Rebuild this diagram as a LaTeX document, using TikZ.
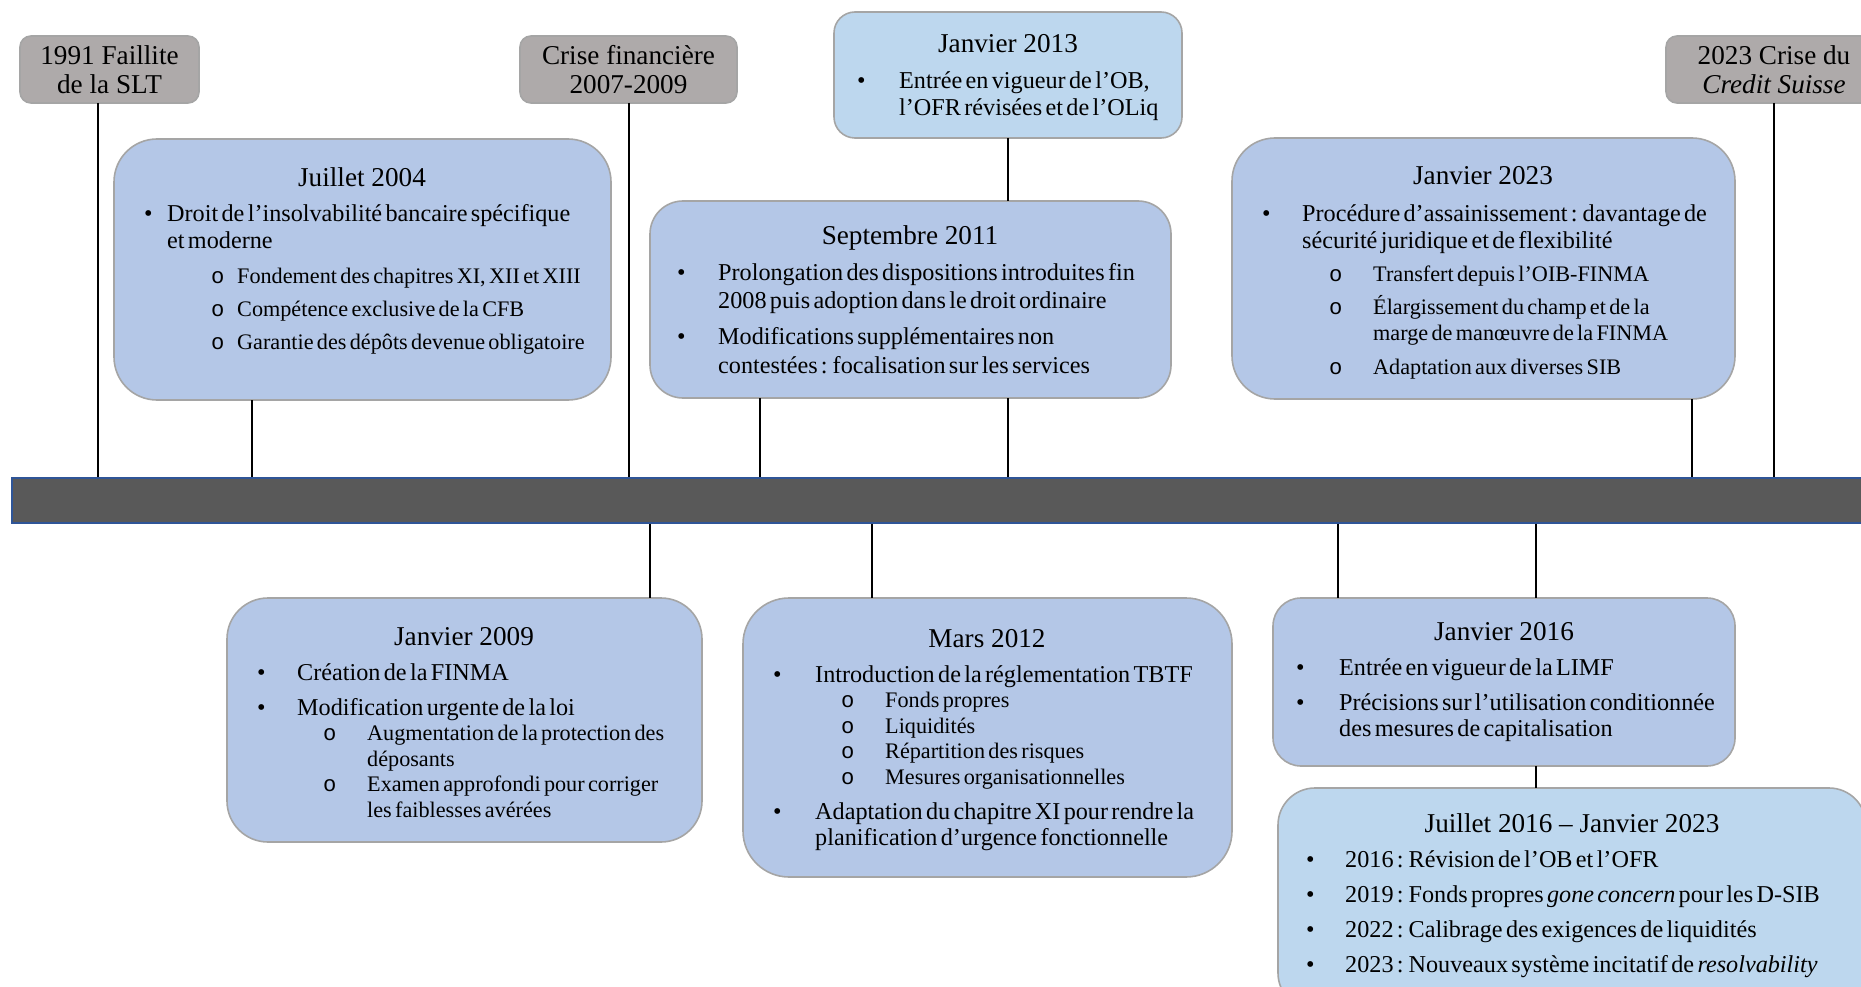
\documentclass[tikz,border=0pt]{standalone}
\usepackage{fontspec}
\setmainfont{Liberation Serif}
\setmonofont{Liberation Mono}

\definecolor{bleu}{HTML}{B4C7E7}
\definecolor{bleuclair}{HTML}{BDD7EE}
\definecolor{gris}{HTML}{AEAAAA}
\definecolor{bord}{HTML}{A5A5A5}
\definecolor{axefond}{HTML}{595959}
\definecolor{axebord}{HTML}{2F5597}

\newcommand{\titre}{\fontsize{27.2}{29}\selectfont}
\newcommand{\corps}{\fontsize{24.2}{26.7}\selectfont}
\newcommand{\sous}{\fontsize{22.2}{25.5}\selectfont}
% puce principale (* = premiere ligne) / sous-puce
\NewDocumentCommand{\pp}{s O{0pt} m}{\IfBooleanF{#1}{\par\ifdim#2>0pt\vspace{#2}\fi}\corps\hangindent=#3\hangafter=1\noindent\makebox[#3][l]{•}\ignorespaces}
\NewDocumentCommand{\ps}{O{0pt} m m}{\par\ifdim#1>0pt\vspace{#1}\fi\sous\hangindent=#3\hangafter=1\noindent\makebox[#3][l]{\hspace*{#2}\texttt{o}}\ignorespaces}

\begin{document}
\begin{tikzpicture}[x=1pt, y=-1pt,
  boite/.style={rectangle, draw=bord, line width=1.6pt, inner sep=0pt, outer sep=0pt},
  bleue/.style={boite, fill=bleu},
  claire/.style={boite, fill=bleuclair},
  grise/.style={boite, fill=gris, rounded corners=11pt, minimum height=67pt, align=center, font=\titre},
  titre/.style={anchor=base, inner sep=0pt, font=\titre},
  liste/.style={anchor=base west, inner sep=0pt, text width=#1},
  tige/.style={draw=black, line width=2pt}]
\useasboundingbox (0,0) rectangle (1861,987);

% axe du temps
\node[rectangle, fill=axefond, draw=axebord, line width=1.5pt, minimum width=1863pt, minimum height=45pt] (axe) at (943.5,500.5) {};

% evenements
\node[grise, minimum width=179pt] (g1991) at (109.5,69.5) {1991 Faillite\\de la SLT};
\node[grise, minimum width=217pt] (g2007) at (628.5,69.5) {Crise financière\\2007-2009};
\node[grise, minimum width=216pt] (g2023) at (1774,69.5) {2023 Crise du\\\textit{Credit Suisse}};

% au-dessus de l'axe
\node[bleue, rounded corners=43pt, minimum width=497pt, minimum height=261pt] (b2004) at (362.5,269.5) {};
\node[titre] (t2004) at (362,187) {Juillet 2004};
\node[liste=460pt] (l2004) at (144,222) {%
\pp*{23pt}Droit de l’insolvabilité bancaire spécifique\newline et moderne
\ps[9.5pt]{67pt}{93pt}Fondement des chapitres XI, XII et XIII
\ps[7pt]{67pt}{93pt}Compétence exclusive de la CFB
\ps[7.5pt]{67pt}{93pt}Garantie des dépôts devenue obligatoire\par};

\node[claire, rounded corners=21pt, minimum width=348pt, minimum height=126pt] (b2013) at (1008,75) {};
\node[titre] (t2013) at (1008,53) {Janvier 2013};
\node[liste=320pt] (l2013) at (857,89) {%
\pp*{42pt}Entrée en vigueur de l’OB,\newline l’OFR révisées et de l’OLiq\par};

\node[bleue, rounded corners=33pt, minimum width=521pt, minimum height=197pt] (b2011) at (910.5,299.5) {};
\node[titre] (t2011) at (910,245) {Septembre 2011};
\node[liste=490pt] (l2011) at (677,280) {%
\pp*{41pt}Prolongation des dispositions introduites fin\vadjust{\vskip1.8pt}\newline 2008 puis adoption dans le droit ordinaire
\pp[9.3pt]{41pt}Modifications supplémentaires non\vadjust{\vskip1.8pt}\newline contestées : focalisation sur les services\par};

\node[bleue, rounded corners=43pt, minimum width=503pt, minimum height=261pt] (b2023) at (1483.5,268.5) {};
\node[titre] (t2023) at (1483,185) {Janvier 2023};
\node[liste=470pt] (l2023) at (1262,222) {%
\pp*{40pt}Procédure d’assainissement : davantage de\newline sécurité juridique et de flexibilité
\ps[7.5pt]{67pt}{111pt}Transfert depuis l’OIB-FINMA
\ps[7.5pt]{67pt}{111pt}Élargissement du champ et de la\newline marge de manœuvre de la FINMA
\ps[8.5pt]{67pt}{111pt}Adaptation aux diverses SIB\par};

% au-dessous de l'axe
\node[bleue, rounded corners=41pt, minimum width=475pt, minimum height=244pt] (b2009) at (464.5,720) {};
\node[titre] (t2009) at (464,645) {Janvier 2009};
\node[liste=440pt] (l2009) at (257,680) {%
\pp*{40pt}Création de la FINMA
\pp[8.3pt]{40pt}Modification urgente de la loi
\ps{66pt}{110pt}Augmentation de la protection des\newline déposants
\ps{66pt}{110pt}Examen approfondi pour corriger\newline les faiblesses avérées\par};

\node[bleue, rounded corners=46pt, minimum width=489pt, minimum height=279pt] (b2012) at (987.5,737.5) {};
\node[titre] (t2012) at (987,647) {Mars 2012};
\node[liste=450pt] (l2012) at (773,682) {%
\pp*{42pt}Introduction de la réglementation TBTF
\ps{68pt}{112pt}Fonds propres
\ps{68pt}{112pt}Liquidités
\ps{68pt}{112pt}Répartition des risques
\ps{68pt}{112pt}Mesures organisationnelles
\pp[8.3pt]{42pt}Adaptation du chapitre XI pour rendre la\newline planification d’urgence fonctionnelle\par};

\node[bleue, rounded corners=28pt, minimum width=462pt, minimum height=168pt] (b2016) at (1504,682) {};
\node[titre] (t2016) at (1504,640) {Janvier 2016};
\node[liste=430pt] (l2016) at (1296,675) {%
\pp*{43pt}Entrée en vigueur de la LIMF
\pp[8.3pt]{43pt}Précisions sur l’utilisation conditionnée\newline des mesures de capitalisation\par};

\node[claire, rounded corners=37pt, minimum width=588pt, minimum height=222pt] (b2016b) at (1572,899) {};
\node[titre] (t2016b) at (1572,832) {Juillet 2016 – Janvier 2023};
\node[liste=545pt] (l2016b) at (1306,867) {%
\pp*{39pt}2016 : Révision de l’OB et l’OFR
\pp[8.6pt]{39pt}2019 : Fonds propres \textit{gone concern} pour les D-SIB
\pp[8.6pt]{39pt}2022 : Calibrage des exigences de liquidités
\pp[8.6pt]{39pt}2023 : Nouveaux système incitatif de \textit{resolvability}\par};

% tiges
\coordinate (c1991) at (98,0);
\coordinate (c2004) at (252,0);
\coordinate (c2011) at (760,0);
\coordinate (c2023) at (1692,0);
\coordinate (c2009) at (650,0);
\coordinate (c2012) at (872,0);
\coordinate (c2016) at (1338,0);
\coordinate (c2016b) at (1536,0);
\path [tige] (g1991.south -| c1991) edge (axe.north -| c1991);
\path [tige] (b2004.south -| c2004) edge (axe.north -| c2004);
\path [tige] (g2007.south) edge (g2007.south |- axe.north);
\path [tige] (b2011.south -| c2011) edge (axe.north -| c2011);
\path [tige] (b2013.south) edge (b2013.south |- b2011.north);
\path [tige] (b2011.south -| b2013.south) edge (axe.north -| b2013.south);
\path [tige] (b2023.south -| c2023) edge (axe.north -| c2023);
\path [tige] (g2023.south) edge (g2023.south |- axe.north);
\path [tige] (axe.south -| c2009) edge (b2009.north -| c2009);
\path [tige] (axe.south -| c2012) edge (b2012.north -| c2012);
\path [tige] (axe.south -| c2016) edge (b2016.north -| c2016);
\path [tige] (axe.south -| c2016b) edge (b2016.north -| c2016b);
\path [tige] (b2016.south -| c2016b) edge (b2016b.north -| c2016b);
\end{tikzpicture}
\end{document}
